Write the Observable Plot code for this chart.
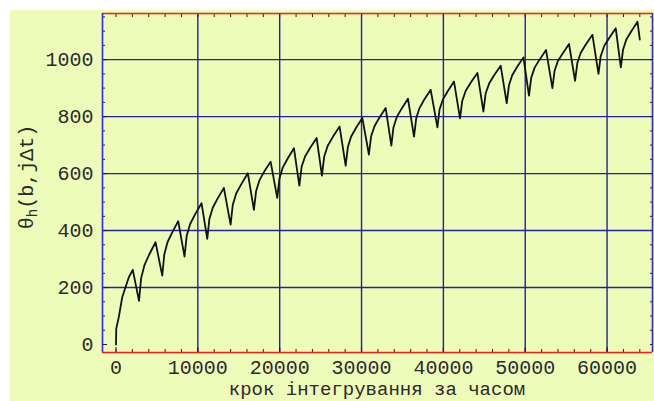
<!DOCTYPE html>
<html>
<head>
<meta charset="utf-8">
<script src="https://cdn.jsdelivr.net/npm/d3@7"></script>
<script src="https://cdn.jsdelivr.net/npm/@observablehq/plot@0.6"></script>
<style>
  body { margin: 0; background: #ffffff; }
  #bg { position: absolute; left: 10px; top: 10px; width: 644px; height: 391px; background: #eefcb9; }
  #chart { position: absolute; left: 0; top: 0; }
</style>
</head>
<body>
<div id="bg"></div>
<div id="chart"></div>
<script>
// Data (integration step vs theta_h)
const steps = [
  0, 30, 340, 760, 1160, 1570, 2050,
  2810, 3070, 3480, 4060, 4830,
  5650, 5900, 6290, 6860, 7600,
  8370, 8640, 9060, 9660, 10450,
  11150, 11410, 11820, 12410, 13180,
  14000, 14270, 14700, 15310, 16110,
  16850, 17120, 17520, 18110, 18890,
  19700, 19970, 20370, 20960, 21740,
  22400, 22670, 23100, 23710, 24510,
  25160, 25440, 25870, 26500, 27320,
  28060, 28330, 28730, 29320, 30100,
  30900, 31170, 31580, 32170, 32950,
  33640, 33900, 34310, 34900, 35670,
  36410, 36680, 37080, 37670, 38450,
  39270, 39530, 39940, 40530, 41300,
  42030, 42310, 42730, 43350, 44160,
  44890, 45160, 45590, 46200, 47000,
  47740, 48010, 48410, 49000, 49780,
  50460, 50730, 51150, 51750, 52540,
  53320, 53580, 53990, 54580, 55350,
  56090, 56370, 56790, 57400, 58210,
  58950, 59220, 59650, 60260, 61060,
  61680, 61950, 62350, 62940, 63720,
  64000
];
const theta = [
  0, 56, 96, 166, 201, 236, 262,
  153, 233, 279, 316, 359,
  242, 316, 359, 393, 433,
  309, 382, 423, 457, 496,
  371, 441, 480, 512, 550,
  421, 491, 531, 563, 601,
  473, 539, 576, 607, 642,
  515, 583, 621, 652, 689,
  558, 623, 660, 690, 725,
  593, 660, 698, 729, 765,
  628, 693, 730, 760, 795,
  667, 731, 766, 796, 830,
  698, 762, 799, 828, 863,
  730, 794, 830, 860, 894,
  762, 825, 860, 889, 923,
  794, 856, 891, 920, 953,
  818, 881, 916, 945, 979,
  847, 910, 945, 974, 1008,
  874, 936, 972, 1000, 1034,
  900, 960, 995, 1022, 1055,
  926, 989, 1024, 1053, 1087,
  950, 1012, 1048, 1076, 1110,
  973, 1035, 1071, 1099, 1133,
  1070
];

const xDomain = [-1650, 65550];
const yDomain = [-28, 1162];
const xTickLabels = [0, 10000, 20000, 30000, 40000, 50000, 60000];
const yTickLabels = [0, 200, 400, 600, 800, 1000];
const xGridValues = [10000, 20000, 30000, 40000, 50000, 60000];
const yGridValues = [200, 400, 600, 800, 1000];
const xMinorTicks = d3.range(0, 64001, 2000);
const yMinorTicks = d3.range(0, 1151, 50);
const xTitle = "крок інтегрування за часом";
const yTitleMain = "θ", yTitleSub = "h", yTitleRest = "(b,jΔt)";

const gridColor = "#22229e";
const tickColor = "#222222";
const fmt = d => `${d}`;

const chart = Plot.plot({
  width: 654,
  height: 401,
  marginLeft: 102,
  marginRight: 2,
  marginTop: 13,
  marginBottom: 49,
  style: { background: "transparent", fontFamily: "'Liberation Mono', monospace", fontSize: "20px", color: "#2a2a2a", overflow: "visible" },
  x: { domain: xDomain, axis: null },
  y: { domain: yDomain, axis: null },
  marks: [
    Plot.gridX(xGridValues, { stroke: gridColor, strokeOpacity: 1, strokeWidth: 1.4 }),
    Plot.gridY(yGridValues, { stroke: gridColor, strokeOpacity: 1, strokeWidth: 1.4 }),
    Plot.axisX(xMinorTicks, { anchor: "bottom", tickSize: -3, tickFormat: () => "", label: null, stroke: tickColor }),
    Plot.axisX(xMinorTicks, { anchor: "top", tickSize: -3, tickFormat: () => "", label: null, stroke: tickColor }),
    Plot.axisY(yMinorTicks, { anchor: "left", tickSize: -3, tickFormat: () => "", label: null, stroke: tickColor }),
    Plot.axisY(yMinorTicks, { anchor: "right", tickSize: -3, tickFormat: () => "", label: null, stroke: tickColor }),
    Plot.axisX(xTickLabels, { anchor: "bottom", tickSize: -5, tickFormat: () => "", label: null, stroke: tickColor }),
    Plot.axisY(yTickLabels, { anchor: "left", tickSize: -5, tickFormat: () => "", label: null, stroke: tickColor }),
    Plot.axisX(xTickLabels, { anchor: "bottom", tickSize: 0, tickPadding: 7, tickFormat: fmt, label: null }),
    Plot.axisY(yTickLabels, { anchor: "left", tickSize: 0, tickPadding: 9, tickFormat: fmt, label: null }),
    Plot.ruleY([yDomain[0]], { stroke: "#ff1a1a", strokeWidth: 1.6 }),
    Plot.ruleY([yDomain[1]], { stroke: "#ff1a1a", strokeWidth: 1.6 }),
    Plot.ruleX([xDomain[0]], { stroke: "#2a2aff", strokeWidth: 1.6 }),
    Plot.ruleX([xDomain[1]], { stroke: "#2a2aff", strokeWidth: 1.6 }),
    Plot.line(steps, { x: steps, y: theta, stroke: "#111111", strokeWidth: 1.8 })
  ]
});

const svg = d3.select(chart);
svg.append("text")
  .attr("x", 377).attr("y", 395)
  .attr("text-anchor", "middle")
  .attr("fill", "#2a2a2a")
  .attr("font-family", "'Liberation Mono', monospace")
  .attr("font-size", 19)
  .text(xTitle);

const yt = svg.append("text")
  .attr("transform", "translate(33,177) rotate(-90)")
  .attr("text-anchor", "middle")
  .attr("fill", "#2a2a2a")
  .attr("font-family", "'Liberation Mono', monospace")
  .attr("font-size", 20);
yt.append("tspan").text(yTitleMain);
yt.append("tspan").attr("font-size", 14).attr("dy", 4).text(yTitleSub);
yt.append("tspan").attr("dy", -4).text(yTitleRest);

document.getElementById("chart").appendChild(chart);
</script>
</body>
</html>
